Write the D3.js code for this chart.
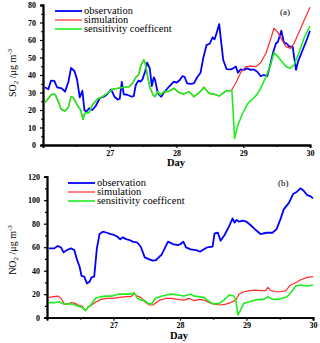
<!DOCTYPE html>
<html>
<head>
<meta charset="utf-8">
<script src="https://cdn.jsdelivr.net/npm/d3@7"></script>
<style>
  body { margin: 0; background: #fff; }
  svg { display: block; }
</style>
</head>
<body>
<div id="chart"></div>
<script>
// ─────────────────────────────────────────
// SO2 / NO2 : observation vs simulation vs sensitivity
// ─────────────────────────────────────────

const seriesNames = ['observation', 'simulation', 'sensitivity coefficent'];
const dayTicks = [27, 28, 29, 30];

// (a) SO2, [day, µg m-3]
const so2Obs = [
  [26.03, 33], [26.08, 31.8], [26.12, 36.8], [26.17, 36.6], [26.21, 33], [26.28, 32.4],
  [26.33, 30.5], [26.38, 36], [26.42, 44], [26.47, 42.3], [26.51, 37.5], [26.55, 27.2],
  [26.59, 31], [26.62, 20], [26.65, 19], [26.69, 21], [26.74, 20], [26.79, 22.3],
  [26.85, 26.7], [26.91, 27.6], [26.95, 28.6], [27.02, 31.8], [27.07, 27.6], [27.12, 26],
  [27.15, 26.3], [27.18, 36], [27.21, 29], [27.27, 28.6], [27.33, 27.6], [27.36, 28],
  [27.39, 34.3], [27.43, 36.8], [27.46, 36.2], [27.49, 37.5], [27.53, 42], [27.56, 47],
  [27.60, 43.8], [27.63, 33.7], [27.66, 38.7], [27.68, 37.1], [27.72, 29.5], [27.77, 27.6],
  [27.81, 29.9], [27.88, 33], [27.96, 36.2], [28.00, 35.6], [28.05, 37.1], [28.09, 39.4],
  [28.12, 39], [28.16, 35.2], [28.21, 34.9], [28.26, 35.2], [28.31, 38.7], [28.36, 41.3],
  [28.40, 49.5], [28.45, 57.1], [28.50, 58], [28.54, 61.5], [28.57, 60.4], [28.60, 63.8],
  [28.64, 69.1], [28.66, 61.9], [28.70, 48.6], [28.75, 43.4], [28.81, 43.2], [28.85, 43.8],
  [28.89, 44.8], [28.92, 41.3], [28.96, 43.2], [29.01, 42.9], [29.06, 43.8], [29.11, 42.9],
  [29.16, 43.2], [29.21, 41.9], [29.26, 39.4], [29.31, 40], [29.36, 39.4], [29.41, 46.7],
  [29.45, 53.3], [29.49, 58], [29.52, 59], [29.57, 65.3], [29.61, 58.5], [29.65, 58],
  [29.69, 56.2], [29.74, 56.2], [29.79, 42.9], [29.82, 47.6], [29.89, 54.3], [29.95, 60],
  [30.00, 65.3]
];
const so2Sim = [
  [26.03, 24.2], [26.08, 26.7], [26.13, 29], [26.18, 29], [26.23, 24.8], [26.27, 20.4],
  [26.33, 19.4], [26.38, 21.5], [26.42, 27.6], [26.45, 27.2], [26.48, 25.3], [26.52, 22.3],
  [26.56, 20.4], [26.60, 14.7], [26.62, 17.7], [26.65, 18.5], [26.69, 18.5], [26.74, 22.9],
  [26.81, 26.1], [26.89, 27.6], [26.96, 29.5], [27.04, 31.8], [27.12, 32.4], [27.22, 33],
  [27.29, 33.3], [27.34, 35.2], [27.39, 38.7], [27.43, 40], [27.47, 45.7], [27.51, 48.6],
  [27.53, 47], [27.56, 40.6], [27.60, 33], [27.65, 28.6], [27.68, 27.6], [27.72, 30.5],
  [27.76, 28.6], [27.81, 30.5], [27.88, 30.5], [27.96, 32.4], [28.04, 29.9], [28.11, 29.1],
  [28.19, 30.5], [28.26, 27.6], [28.34, 29.9], [28.41, 33], [28.49, 29.5], [28.56, 29.1],
  [28.64, 28], [28.69, 29.5], [28.75, 31], [28.82, 31], [28.89, 35.6], [28.96, 41.3],
  [29.04, 44.8], [29.11, 45.1], [29.19, 44.8], [29.26, 47], [29.34, 52.4], [29.41, 60.4],
  [29.46, 66.7], [29.51, 64.8], [29.56, 61.5], [29.64, 56.2], [29.71, 55.2], [29.76, 58],
  [29.84, 64.8], [29.91, 71], [30.00, 78.7]
];
const so2Sens = [
  [26.03, 24.2], [26.08, 26.7], [26.13, 29], [26.18, 29], [26.23, 24.8], [26.27, 20.4],
  [26.33, 19.4], [26.38, 21.5], [26.42, 27.6], [26.45, 27.2], [26.48, 25.3], [26.52, 22.3],
  [26.56, 20.4], [26.60, 14.7], [26.62, 17.7], [26.65, 18.5], [26.69, 18.5], [26.74, 22.9],
  [26.81, 26.1], [26.89, 27.6], [26.96, 29.5], [27.04, 31.8], [27.12, 32.4], [27.22, 33],
  [27.29, 33.3], [27.34, 35.2], [27.39, 38.7], [27.43, 40], [27.47, 45.7], [27.51, 48.6],
  [27.53, 47], [27.56, 40.6], [27.60, 33], [27.65, 28.6], [27.68, 27.6], [27.72, 30.5],
  [27.76, 28.6], [27.81, 30.5], [27.88, 30.5], [27.96, 32.4], [28.04, 29.9], [28.11, 29.1],
  [28.19, 30.5], [28.26, 27.6], [28.34, 29.9], [28.41, 33], [28.49, 29.5], [28.56, 29.1],
  [28.64, 28], [28.69, 29.5], [28.75, 31], [28.83, 31], [28.85, 18], [28.87, 3.8],
  [28.92, 11.4], [28.99, 18], [29.07, 23.8], [29.15, 26.7], [29.21, 29.1], [29.26, 32.4],
  [29.34, 39], [29.41, 45.7], [29.46, 52.8], [29.51, 50.9], [29.57, 48.2], [29.64, 44.8],
  [29.70, 43.8], [29.76, 45.7], [29.84, 53.3], [29.91, 61], [30.00, 68]
];

// (b) NO2, [day, µg m-3]
const no2Obs = [
  [26.03, 59], [26.11, 59], [26.16, 61], [26.21, 59.9], [26.25, 55.6], [26.30, 57.6],
  [26.36, 59], [26.41, 57.6], [26.45, 49.6], [26.49, 43.4], [26.52, 35.5], [26.56, 34.9],
  [26.60, 29.2], [26.64, 30.6], [26.67, 34.3], [26.71, 34.9], [26.75, 59], [26.79, 71.2],
  [26.84, 73.2], [26.90, 72.3], [26.96, 71.2], [27.01, 70.4], [27.06, 68.9], [27.10, 66.7],
  [27.14, 68.4], [27.19, 66.9], [27.24, 66.1], [27.29, 64.7], [27.36, 63.8], [27.41, 60.4],
  [27.47, 51.3], [27.54, 49.6], [27.59, 48.5], [27.64, 49.1], [27.70, 52.5], [27.72, 53.3],
  [27.77, 59], [27.82, 64.7], [27.89, 62.7], [27.97, 61.8], [28.01, 62.7], [28.05, 64.7],
  [28.09, 59.9], [28.16, 58.2], [28.24, 57.6], [28.30, 56.2], [28.36, 58.2], [28.41, 59.9],
  [28.49, 60.4], [28.52, 71.8], [28.57, 72.3], [28.61, 65.5], [28.67, 70.4], [28.74, 78],
  [28.79, 84.5], [28.82, 80.9], [28.85, 83.1], [28.89, 81.7], [28.94, 82.6], [29.00, 81.7],
  [29.06, 78.9], [29.14, 74.6], [29.21, 71.2], [29.30, 72.3], [29.39, 72.3], [29.45, 75.2],
  [29.51, 83.7], [29.56, 92.2], [29.64, 97.9], [29.70, 105.2], [29.76, 107.2], [29.81, 110.1],
  [29.86, 108.1], [29.91, 104.4], [29.96, 103.5], [30.00, 101.6]
];
const no2Sim = [
  [26.03, 17.3], [26.10, 17.9], [26.16, 18.4], [26.21, 16.5], [26.26, 11.6], [26.31, 11.6],
  [26.37, 12.8], [26.42, 12.2], [26.47, 10.8], [26.54, 9.4], [26.56, 7.1], [26.59, 6.5],
  [26.62, 9.4], [26.67, 10.8], [26.74, 13.6], [26.81, 15.6], [26.90, 16.5], [26.99, 16.5],
  [27.09, 17.3], [27.19, 17.9], [27.26, 17.9], [27.31, 20.1], [27.36, 18.4], [27.41, 17.3],
  [27.47, 13.6], [27.54, 10.8], [27.59, 10.8], [27.64, 12.8], [27.70, 15], [27.79, 16.5],
  [27.87, 16.5], [27.97, 15.6], [28.06, 15], [28.14, 16.5], [28.21, 14.5], [28.29, 15.6],
  [28.36, 15], [28.44, 12.8], [28.51, 11.6], [28.61, 10.8], [28.69, 11.6], [28.76, 12.8],
  [28.84, 15], [28.89, 20.1], [28.96, 22.1], [29.06, 23], [29.14, 23.5], [29.21, 23],
  [29.29, 23], [29.32, 25.8], [29.37, 23], [29.44, 22.1], [29.51, 22.1], [29.59, 23],
  [29.66, 27.8], [29.74, 29.8], [29.81, 32.1], [29.91, 34.3], [30.00, 34.9]
];
const no2Sens = [
  [26.03, 12.8], [26.11, 12.8], [26.18, 13.6], [26.25, 11.6], [26.31, 11.6], [26.38, 11.6],
  [26.46, 9.9], [26.53, 8.8], [26.58, 6], [26.62, 8.8], [26.67, 11.6], [26.73, 16.5],
  [26.81, 17.9], [26.90, 18.4], [26.98, 18.4], [27.08, 20.1], [27.18, 20.1], [27.26, 20.1],
  [27.31, 21.3], [27.36, 16.5], [27.41, 15], [27.47, 14.5], [27.53, 11.6], [27.58, 12.2],
  [27.63, 16.5], [27.70, 17.9], [27.79, 19.3], [27.87, 20.1], [27.97, 19.3], [28.06, 18.4],
  [28.16, 20.1], [28.21, 18.4], [28.29, 17.9], [28.36, 17.3], [28.44, 13.6], [28.51, 11.6],
  [28.59, 12.2], [28.66, 15], [28.74, 19.3], [28.81, 18.4], [28.84, 15], [28.87, 2.3],
  [28.91, 6.5], [28.96, 12.2], [29.04, 13.6], [29.14, 15], [29.21, 15.6], [29.26, 15.6],
  [29.32, 17.9], [29.39, 15.6], [29.46, 15.6], [29.54, 16.5], [29.61, 17.9], [29.69, 23],
  [29.74, 27], [29.81, 27.8], [29.91, 27], [30.00, 27.8]
];

const colors = ['#0000ff', '#ff2a2a', '#1def1d'];
const widths = [1.8, 1.2, 1.6];
const serif = '"Liberation Serif", "Times New Roman", serif';

const svg = d3.select('#chart')
  .append('svg')
  .attr('width', 320)
  .attr('height', 343);

function drawPanel(p) {
  const x = d3.scaleLinear().domain([26, 30]).range([p.left, p.right]);
  const y = d3.scaleLinear().domain([0, p.yMax]).range([p.bottom, p.top]);
  const g = svg.append('g');

  // 轴
  const yAxis = d3.axisLeft(y)
    .tickValues(d3.range(0, p.yMax + 1, p.yStep))
    .tickSize(3).tickPadding(4);
  const yMinor = d3.axisLeft(y)
    .tickValues(d3.range(p.yStep / 2, p.yMax, p.yStep))
    .tickSize(2).tickFormat('');
  const xAxis = d3.axisBottom(x)
    .tickValues(dayTicks)
    .tickFormat(d3.format('d'))
    .tickSize(3).tickPadding(2);
  const xMinor = d3.axisBottom(x)
    .tickValues([26.5, 27.5, 28.5, 29.5])
    .tickSize(2).tickFormat('');

  [yAxis, yMinor].forEach(a => {
    g.append('g').attr('transform', `translate(${p.left},0)`).call(a);
  });
  [xAxis, xMinor].forEach(a => {
    g.append('g').attr('transform', `translate(0,${p.bottom})`).call(a);
  });
  g.selectAll('.domain').attr('stroke', '#000').attr('stroke-width', 1.8);
  g.selectAll('.tick line').attr('stroke', '#000').attr('stroke-width', 1.2);
  g.selectAll('.tick text')
    .attr('font-family', serif).attr('font-weight', 'bold')
    .attr('font-size', 8).attr('fill', '#000');

  // 曲线
  const line = d3.line().x(d => x(d[0])).y(d => y(d[1]));
  p.series.forEach((s, i) => {
    g.append('path')
      .datum(s)
      .attr('d', line)
      .attr('fill', 'none')
      .attr('stroke', colors[i])
      .attr('stroke-width', widths[i])
      .attr('stroke-linejoin', 'round');
  });

  // 图例
  seriesNames.forEach((name, i) => {
    const ly = p.legendY + i * 9;
    g.append('line')
      .attr('x1', p.legendX).attr('x2', p.legendX + 27)
      .attr('y1', ly).attr('y2', ly)
      .attr('stroke', colors[i]).attr('stroke-width', widths[i]);
    g.append('text')
      .attr('x', p.legendX + 29).attr('y', ly + 3)
      .attr('font-family', serif).attr('font-size', 10.5)
      .text(name);
  });

  // 面板编号
  g.append('text')
    .attr('x', p.tagX).attr('y', p.tagY)
    .attr('font-family', serif).attr('font-size', 9)
    .text(p.tag);

  // x 轴标题
  g.append('text')
    .attr('x', p.dayX).attr('y', p.dayY)
    .attr('text-anchor', 'middle')
    .attr('font-family', serif).attr('font-weight', 'bold').attr('font-size', 10.5)
    .text('Day');

  // y 轴标题
  const yl = g.append('text')
    .attr('transform', `translate(${p.ylabX},${p.ylabY}) rotate(-90)`)
    .attr('text-anchor', 'middle')
    .attr('font-family', serif).attr('font-size', 10);
  yl.append('tspan').text(p.species);
  yl.append('tspan').attr('font-size', 7).attr('dy', 2).text('2');
  yl.append('tspan').attr('dy', -2).text(' /\u03bcg m');
  yl.append('tspan').attr('font-size', 7).attr('dy', -4).text('-3');
}

drawPanel({
  series: [so2Obs, so2Sim, so2Sens], species: 'SO',
  yMax: 80, yStep: 10,
  left: 43, right: 310, top: 5, bottom: 145,
  legendX: 55, legendY: 11,
  tag: '(a)', tagX: 280, tagY: 15,
  dayX: 176, dayY: 166,
  ylabX: 16, ylabY: 73
});

drawPanel({
  series: [no2Obs, no2Sim, no2Sens], species: 'NO',
  yMax: 120, yStep: 20,
  left: 47, right: 313, top: 176.7, bottom: 317.7,
  legendX: 68, legendY: 183,
  tag: '(b)', tagX: 278, tagY: 186,
  dayX: 179, dayY: 339,
  ylabX: 16, ylabY: 250
});
</script>
</body>
</html>
